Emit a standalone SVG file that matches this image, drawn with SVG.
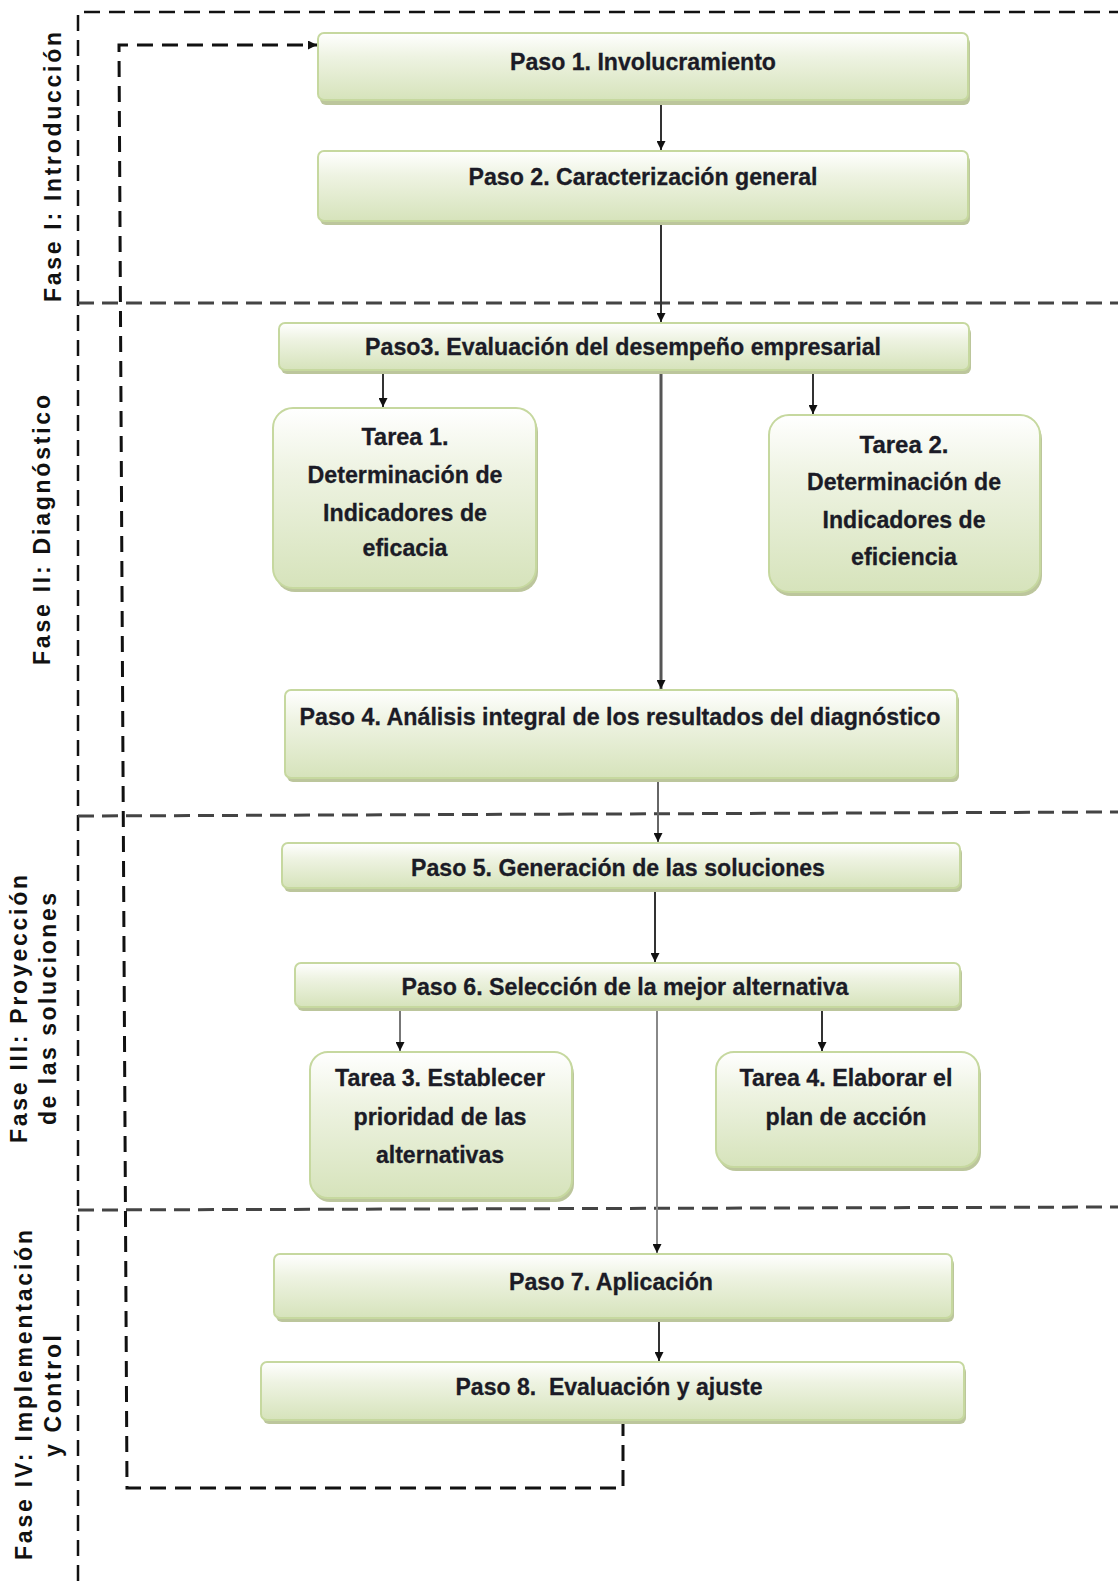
<svg xmlns="http://www.w3.org/2000/svg" width="1118" height="1581" viewBox="0 0 1118 1581">
<style>
.box{fill:url(#g);stroke:#c6d89f;stroke-width:2}
.sh{fill:#bcc69c}
.t{font-family:"Liberation Sans",Arial,sans-serif;font-weight:bold;font-size:24px;fill:#1b1b26;stroke:#1b1b26;stroke-width:0.3;text-anchor:middle}
.ph{font-family:"Liberation Sans",Arial,sans-serif;font-weight:bold;font-size:23px;fill:#111;text-anchor:middle}
.dash{fill:none;stroke:#111;stroke-width:2.5;stroke-dasharray:16 9}
.div{fill:none;stroke:#444;stroke-width:3;stroke-dasharray:16 8}
.c{fill:none;stroke:#333;stroke-width:2;marker-end:url(#ah)}
</style>
<defs>
<linearGradient id="g" x1="0" y1="0" x2="0" y2="1">
<stop offset="0" stop-color="#ffffff"/>
<stop offset="0.35" stop-color="#eef3e2"/>
<stop offset="1" stop-color="#d6e3bb"/>
</linearGradient>
<marker id="ah" viewBox="0 0 10 10" refX="10" refY="5" markerWidth="9" markerHeight="9" markerUnits="userSpaceOnUse" orient="auto">
<path d="M0,0 L10,5 L0,10 z" fill="#111"/>
</marker>
</defs>

<g id="frame">
<path class="dash" d="M78 1581 V12 H1118"/>
<path class="div" d="M78 303 H1118"/>
<path class="div" d="M78 816 L1118 812"/>
<path class="div" d="M78 1210 L1118 1207"/>
</g>

<g id="phase1"><text class="ph" transform="translate(61,167) rotate(-90)" textLength="270">Fase  I: Introducción</text></g>
<g id="phase2"><text class="ph" transform="translate(50,530) rotate(-90)" textLength="270">Fase  II: Diagnóstico</text></g>
<g id="phase3">
<text class="ph" transform="translate(27,1009) rotate(-90)" textLength="268">Fase  III: Proyección</text>
<text class="ph" transform="translate(56,1009) rotate(-90)" textLength="232">de las soluciones</text>
</g>
<g id="phase4">
<text class="ph" transform="translate(32,1395) rotate(-90)" textLength="330">Fase  IV: Implementación</text>
<text class="ph" transform="translate(61,1396) rotate(-90)" textLength="122">y Control</text>
</g>

<g id="connectors">
<path class="c" d="M661 100 V150"/>
<path class="c" d="M661 221 V322"/>
<path class="c" d="M383 370 V407"/>
<path class="c" d="M813 370 V414"/>
<path class="c" d="M661 370 V689" style="stroke:#555;stroke-width:3"/>
<path class="c" d="M658 778 V842" style="stroke:#666"/>
<path class="c" d="M655 888 V962"/>
<path class="c" d="M400 1007 V1051" style="stroke:#777"/>
<path class="c" d="M822 1007 V1051"/>
<path class="c" d="M657 1007 V1253" style="stroke:#888"/>
<path class="c" d="M659 1318 V1361"/>
<path class="dash" d="M623 1420 V1488 H127 L119 45 H317" style="stroke-width:3;marker-end:url(#ah)"/>
</g>

<g id="paso1">
<rect class="sh" x="320" y="37" width="650" height="68" rx="6"/>
<rect class="box" x="318" y="33" width="650" height="67" rx="6"/>
<text class="t" x="643" y="70" textLength="266" lengthAdjust="spacingAndGlyphs">Paso 1. Involucramiento</text>
</g>
<g id="paso2">
<rect class="sh" x="320" y="155" width="650" height="70" rx="6"/>
<rect class="box" x="318" y="151" width="650" height="70" rx="6"/>
<text class="t" x="643" y="185" textLength="349" lengthAdjust="spacingAndGlyphs">Paso 2. Caracterización general</text>
</g>
<g id="paso3">
<rect class="sh" x="281" y="327" width="690" height="47" rx="6"/>
<rect class="box" x="279" y="323" width="690" height="47" rx="6"/>
<text class="t" x="623" y="355" textLength="516" lengthAdjust="spacingAndGlyphs">Paso3. Evaluación del desempeño empresarial</text>
</g>
<g id="tarea1">
<rect class="sh" x="275" y="412" width="263" height="180" rx="20"/>
<rect class="box" x="273" y="408" width="263" height="180" rx="20"/>
<text class="t" x="405" y="445" textLength="87" lengthAdjust="spacingAndGlyphs">Tarea 1.</text>
<text class="t" x="405" y="483" textLength="195" lengthAdjust="spacingAndGlyphs">Determinación de</text>
<text class="t" x="405" y="521" textLength="164" lengthAdjust="spacingAndGlyphs">Indicadores de</text>
<text class="t" x="405" y="556" textLength="85" lengthAdjust="spacingAndGlyphs">eficacia</text>
</g>
<g id="tarea2">
<rect class="sh" x="771" y="419" width="271" height="177" rx="20"/>
<rect class="box" x="769" y="415" width="271" height="177" rx="20"/>
<text class="t" x="904" y="453" textLength="89" lengthAdjust="spacingAndGlyphs">Tarea 2.</text>
<text class="t" x="904" y="490" textLength="194" lengthAdjust="spacingAndGlyphs">Determinación de</text>
<text class="t" x="904" y="528" textLength="163" lengthAdjust="spacingAndGlyphs">Indicadores de</text>
<text class="t" x="904" y="565" textLength="106" lengthAdjust="spacingAndGlyphs">eficiencia</text>
</g>
<g id="paso4">
<rect class="sh" x="287" y="694" width="672" height="88" rx="6"/>
<rect class="box" x="285" y="690" width="672" height="88" rx="6"/>
<text class="t" x="620" y="725" textLength="641" lengthAdjust="spacingAndGlyphs">Paso 4. Análisis integral de los resultados del diagnóstico</text>
</g>
<g id="paso5">
<rect class="sh" x="284" y="847" width="678" height="45" rx="6"/>
<rect class="box" x="282" y="843" width="678" height="45" rx="6"/>
<text class="t" x="618" y="876" textLength="414" lengthAdjust="spacingAndGlyphs">Paso 5. Generación de las soluciones</text>
</g>
<g id="paso6">
<rect class="sh" x="297" y="967" width="665" height="44" rx="6"/>
<rect class="box" x="295" y="963" width="665" height="44" rx="6"/>
<text class="t" x="625" y="995" textLength="447" lengthAdjust="spacingAndGlyphs">Paso 6. Selección de la mejor alternativa</text>
</g>
<g id="tarea3">
<rect class="sh" x="312" y="1056" width="262" height="146" rx="18"/>
<rect class="box" x="310" y="1052" width="262" height="146" rx="18"/>
<text class="t" x="440" y="1086" textLength="210" lengthAdjust="spacingAndGlyphs">Tarea 3. Establecer</text>
<text class="t" x="440" y="1125" textLength="173" lengthAdjust="spacingAndGlyphs">prioridad de las</text>
<text class="t" x="440" y="1163" textLength="128" lengthAdjust="spacingAndGlyphs">alternativas</text>
</g>
<g id="tarea4">
<rect class="sh" x="718" y="1056" width="263" height="115" rx="18"/>
<rect class="box" x="716" y="1052" width="263" height="115" rx="18"/>
<text class="t" x="846" y="1086" textLength="213" lengthAdjust="spacingAndGlyphs">Tarea 4. Elaborar el</text>
<text class="t" x="846" y="1125" textLength="161" lengthAdjust="spacingAndGlyphs">plan de acción</text>
</g>
<g id="paso7">
<rect class="sh" x="276" y="1258" width="678" height="64" rx="6"/>
<rect class="box" x="274" y="1254" width="678" height="64" rx="6"/>
<text class="t" x="611" y="1290" textLength="204" lengthAdjust="spacingAndGlyphs">Paso 7. Aplicación</text>
</g>
<g id="paso8">
<rect class="sh" x="263" y="1366" width="703" height="58" rx="6"/>
<rect class="box" x="261" y="1362" width="703" height="58" rx="6"/>
<text class="t" x="609" y="1395" textLength="307" lengthAdjust="spacingAndGlyphs" xml:space="preserve">Paso 8.  Evaluación y ajuste</text>
</g>
</svg>
